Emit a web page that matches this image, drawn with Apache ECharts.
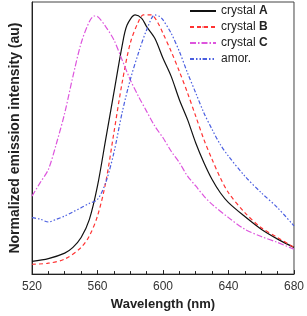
<!DOCTYPE html>
<html><head><meta charset="utf-8">
<script src="https://cdn.jsdelivr.net/npm/echarts@6/dist/echarts.min.js"></script>
<style>html,body{margin:0;padding:0;background:#fff}#c{width:307px;height:316px}</style>
</head><body><div id="c"></div>
<script>
const xTicks = [520, 560, 600, 640, 680];
const wlA = [520,530,540,545,550,555,560,565,570,575,578,583,587,590,595,600,605,610,615,620,625,630,635,640,650,660,670,680];
const crystalA = [0.049,0.06,0.081,0.103,0.141,0.21,0.34,0.52,0.70,0.88,0.96,1.0,0.987,0.955,0.91,0.833,0.763,0.673,0.596,0.506,0.43,0.365,0.314,0.276,0.222,0.173,0.135,0.103];
const wlB = [520,530,540,550,555,560,565,570,575,580,585,588,593,597,600,605,610,615,620,625,630,635,640,650,660,670,680];
const crystalB = [0.038,0.042,0.058,0.103,0.147,0.224,0.353,0.545,0.737,0.891,0.974,1.0,1.0,0.968,0.929,0.859,0.782,0.699,0.609,0.519,0.442,0.372,0.314,0.237,0.179,0.141,0.103];
const wlC = [520,525,530,535,540,545,550,555,558,560,565,570,575,580,585,590,595,600,605,610,615,620,625,630,640,650,660,670,680];
const crystalC = [0.301,0.353,0.404,0.506,0.622,0.763,0.891,0.974,0.996,0.994,0.955,0.904,0.827,0.75,0.686,0.628,0.571,0.526,0.474,0.43,0.378,0.34,0.301,0.269,0.218,0.173,0.145,0.122,0.096];
const wlAmor = [520,525,530,535,540,545,550,555,560,565,570,575,580,585,590,595,598,600,605,610,615,620,625,630,635,640,650,660,670,680];
const amor = [0.218,0.212,0.201,0.212,0.224,0.24,0.256,0.273,0.288,0.353,0.468,0.622,0.75,0.853,0.942,1.0,0.994,0.981,0.929,0.859,0.776,0.699,0.622,0.558,0.5,0.455,0.378,0.314,0.256,0.186];
const seriesNames = ['crystal A','crystal B','crystal C','amor.'];

const zip = (x, y) => x.map((v, i) => [v, y[i]]);
const chart = echarts.init(document.getElementById('c'));
const mk = (name, data, color, type) => ({
  name, type: 'line', data, symbol: 'none', smooth: 0.3,
  lineStyle: { color, width: 1.2, type }, itemStyle: { color }
});
chart.setOption({
  animation: false,
  grid: { left: 22, right: 12, top: 2, bottom: 41, show: true, borderColor: '#444', borderWidth: 1 },
  xAxis: {
    type: 'value', min: 520, max: 680, interval: 40,
    name: 'Wavelength (nm)', nameLocation: 'middle', nameGap: 23,
    nameTextStyle: { fontFamily: 'Liberation Sans', fontWeight: 'bold', fontSize: 13, color: '#222' },
    axisLine: { lineStyle: { color: '#222' } },
    axisTick: { inside: true, length: 4, lineStyle: { color: '#222' } },
    minorTick: { show: true, splitNumber: 4, length: 3, lineStyle: { color: '#222' } },
    axisLabel: { fontFamily: 'Liberation Sans', fontSize: 12, color: '#333', margin: 7,
      formatter: v => xTicks.includes(v) ? String(v) : '' },
    splitLine: { show: false }
  },
  yAxis: {
    type: 'value', min: 0, max: 1.05,
    name: 'Normalized emission intensity (au)', nameLocation: 'middle', nameGap: 10,
    nameTextStyle: { fontFamily: 'Liberation Sans', fontWeight: 'bold', fontSize: 14, color: '#222' },
    axisLine: { lineStyle: { color: '#222' } },
    axisTick: { show: false }, axisLabel: { show: false }, splitLine: { show: false }
  },
  legend: {
    orient: 'vertical', left: 184, top: 0, itemWidth: 26, itemHeight: 2, itemGap: 4,
    data: seriesNames,
    formatter: n => {
      const p = n.split(' ');
      return p.length > 1 ? '{n|' + p[0] + ' }{b|' + p[1] + '}' : '{n|' + n + '}';
    },
    textStyle: {
      rich: {
        n: { fontFamily: 'Liberation Sans', fontSize: 12, color: '#222', lineHeight: 12 },
        b: { fontFamily: 'Liberation Sans', fontSize: 12, fontWeight: 'bold', color: '#222', lineHeight: 12 }
      }
    }
  },
  series: [
    mk(seriesNames[0], zip(wlA, crystalA), '#111111', 'solid'),
    mk(seriesNames[1], zip(wlB, crystalB), '#ff3333', [4, 3]),
    mk(seriesNames[2], zip(wlC, crystalC), '#dd55dd', [6, 2, 1.5, 2]),
    mk(seriesNames[3], zip(wlAmor, amor), '#4a5ee0', [4, 2, 1.5, 2, 1.5, 2])
  ]
});
</script></body></html>
